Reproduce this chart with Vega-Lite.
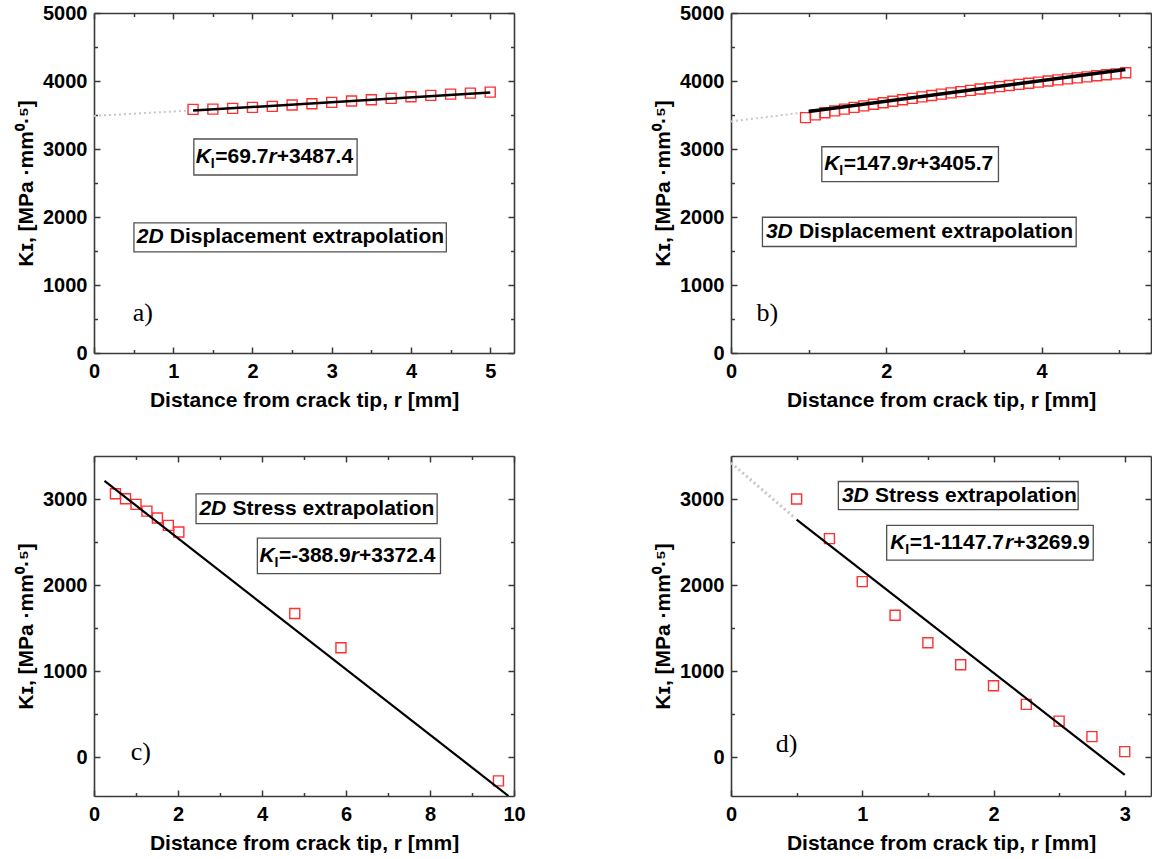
{
  "$schema": "https://vega.github.io/schema/vega-lite/v6.json",
  "background": "white",
  "padding": {"left": 15, "top": 3, "right": 0, "bottom": 0},
  "columns": 2,
  "spacing": {"row": 103, "column": 217},
  "bounds": "flush",
  "config": {
    "view": {"stroke": null},
    "axis": {
      "grid": false,
      "labelFont": "Liberation Sans", "labelFontSize": 20, "labelFontWeight": "bold", "labelColor": "black",
      "titleFont": "Liberation Sans", "titleFontSize": 21, "titleFontWeight": "bold", "titleColor": "black",
      "domainColor": "#3a3a3a", "domainWidth": 1.6, "tickColor": "#3a3a3a", "tickWidth": 1.5,
      "labelFlush": false, "labelOverlap": false
    },
    "text": {"font": "Liberation Sans", "fontSize": 21, "fontWeight": "bold", "baseline": "middle", "align": "left", "color": "black"}
  },
  "datasets": {
    "points": [
      {"panel": "a", "r": 1.25, "K": 3583}, {"panel": "a", "r": 1.5, "K": 3587}, {"panel": "a", "r": 1.75, "K": 3597}, {"panel": "a", "r": 2.0, "K": 3612},
      {"panel": "a", "r": 2.25, "K": 3627}, {"panel": "a", "r": 2.5, "K": 3646}, {"panel": "a", "r": 2.75, "K": 3665}, {"panel": "a", "r": 3.0, "K": 3686},
      {"panel": "a", "r": 3.25, "K": 3705}, {"panel": "a", "r": 3.5, "K": 3724}, {"panel": "a", "r": 3.75, "K": 3744}, {"panel": "a", "r": 4.0, "K": 3768},
      {"panel": "a", "r": 4.25, "K": 3788}, {"panel": "a", "r": 4.5, "K": 3807}, {"panel": "a", "r": 4.75, "K": 3822}, {"panel": "a", "r": 5.0, "K": 3837},
      {"panel": "b", "r": 0.96, "K": 3462}, {"panel": "b", "r": 1.085, "K": 3503}, {"panel": "b", "r": 1.21, "K": 3533}, {"panel": "b", "r": 1.335, "K": 3561},
      {"panel": "b", "r": 1.46, "K": 3587}, {"panel": "b", "r": 1.585, "K": 3611}, {"panel": "b", "r": 1.71, "K": 3635}, {"panel": "b", "r": 1.835, "K": 3658},
      {"panel": "b", "r": 1.96, "K": 3680}, {"panel": "b", "r": 2.085, "K": 3702}, {"panel": "b", "r": 2.21, "K": 3724}, {"panel": "b", "r": 2.335, "K": 3745},
      {"panel": "b", "r": 2.46, "K": 3766}, {"panel": "b", "r": 2.585, "K": 3787}, {"panel": "b", "r": 2.71, "K": 3806}, {"panel": "b", "r": 2.835, "K": 3826},
      {"panel": "b", "r": 2.96, "K": 3844}, {"panel": "b", "r": 3.085, "K": 3863}, {"panel": "b", "r": 3.21, "K": 3882}, {"panel": "b", "r": 3.335, "K": 3899},
      {"panel": "b", "r": 3.46, "K": 3917}, {"panel": "b", "r": 3.585, "K": 3934}, {"panel": "b", "r": 3.71, "K": 3951}, {"panel": "b", "r": 3.835, "K": 3967},
      {"panel": "b", "r": 3.96, "K": 3984}, {"panel": "b", "r": 4.085, "K": 4000}, {"panel": "b", "r": 4.21, "K": 4016}, {"panel": "b", "r": 4.335, "K": 4031},
      {"panel": "b", "r": 4.46, "K": 4047}, {"panel": "b", "r": 4.585, "K": 4062}, {"panel": "b", "r": 4.71, "K": 4077}, {"panel": "b", "r": 4.835, "K": 4092},
      {"panel": "b", "r": 4.96, "K": 4106}, {"panel": "b", "r": 5.085, "K": 4121},
      {"panel": "c", "r": 0.51, "K": 3061}, {"panel": "c", "r": 0.75, "K": 3003}, {"panel": "c", "r": 1.0, "K": 2938}, {"panel": "c", "r": 1.26, "K": 2860},
      {"panel": "c", "r": 1.51, "K": 2779}, {"panel": "c", "r": 1.77, "K": 2694}, {"panel": "c", "r": 2.02, "K": 2617}, {"panel": "c", "r": 4.78, "K": 1670},
      {"panel": "c", "r": 5.88, "K": 1272}, {"panel": "c", "r": 9.63, "K": -274},
      {"panel": "d", "r": 0.5, "K": 3000}, {"panel": "d", "r": 0.75, "K": 2540}, {"panel": "d", "r": 1.0, "K": 2040}, {"panel": "d", "r": 1.25, "K": 1650},
      {"panel": "d", "r": 1.5, "K": 1330}, {"panel": "d", "r": 1.75, "K": 1075}, {"panel": "d", "r": 2.0, "K": 830}, {"panel": "d", "r": 2.25, "K": 615},
      {"panel": "d", "r": 2.5, "K": 420}, {"panel": "d", "r": 2.75, "K": 240}, {"panel": "d", "r": 3.0, "K": 65}
    ],
    "fits": [
      {"panel": "a", "segment": "extrapolated", "r": 0, "K": 3487}, {"panel": "a", "segment": "extrapolated", "r": 1.2, "K": 3565},
      {"panel": "a", "segment": "fit", "r": 1.25, "K": 3565}, {"panel": "a", "segment": "fit", "r": 5.0, "K": 3830},
      {"panel": "b", "segment": "extrapolated", "r": 0, "K": 3405}, {"panel": "b", "segment": "extrapolated", "r": 0.95, "K": 3540},
      {"panel": "b", "segment": "fit", "r": 1.0, "K": 3552}, {"panel": "b", "segment": "fit", "r": 5.08, "K": 4168},
      {"panel": "c", "segment": "fit", "r": 0.25, "K": 3210}, {"panel": "c", "segment": "fit", "r": 9.87, "K": -450},
      {"panel": "d", "segment": "extrapolated", "r": 0, "K": 3420}, {"panel": "d", "segment": "extrapolated", "r": 0.48, "K": 2790},
      {"panel": "d", "segment": "fit", "r": 0.5, "K": 2760}, {"panel": "d", "segment": "fit", "r": 3.0, "K": -205}
    ],
    "boxes": [
      {"panel": "a", "x1": 0.504, "x2": 4.446, "y1": 1487, "y2": 1913}, {"panel": "a", "x1": 1.26, "x2": 3.32, "y1": 2618, "y2": 3147},
      {"panel": "b", "x1": 0.405, "x2": 4.446, "y1": 1566, "y2": 1996}, {"panel": "b", "x1": 1.17, "x2": 3.445, "y1": 2520, "y2": 3033},
      {"panel": "c", "x1": 2.43, "x2": 8.17, "y1": 2714, "y2": 3061}, {"panel": "c", "x1": 3.89, "x2": 8.25, "y1": 2134, "y2": 2547},
      {"panel": "d", "x1": 0.818, "x2": 2.645, "y1": 2876, "y2": 3204}, {"panel": "d", "x1": 1.186, "x2": 2.76, "y1": 2291, "y2": 2695}
    ],
    "notes": [
      {"panel": "a", "part": "prefix", "text": "2D", "x": 0.54, "y": 1700}, {"panel": "a", "part": "label", "text": "Displacement extrapolation", "x": 0.54, "y": 1700},
      {"panel": "a", "part": "K", "text": "K", "x": 1.285, "y": 2883}, {"panel": "a", "part": "sub", "text": "I", "x": 1.285, "y": 2883},
      {"panel": "a", "part": "coef", "text": "=69.7", "x": 1.285, "y": 2883}, {"panel": "a", "part": "r", "text": "r", "x": 1.285, "y": 2883},
      {"panel": "a", "part": "icpt", "text": "+3487.4", "x": 1.285, "y": 2883}, {"panel": "a", "part": "tag", "text": "a)", "x": 0.49, "y": 464},
      {"panel": "b", "part": "prefix", "text": "3D", "x": 0.45, "y": 1781}, {"panel": "b", "part": "label", "text": "Displacement extrapolation", "x": 0.45, "y": 1781},
      {"panel": "b", "part": "K", "text": "K", "x": 1.2, "y": 2779}, {"panel": "b", "part": "sub", "text": "I", "x": 1.2, "y": 2779},
      {"panel": "b", "part": "coef", "text": "=147.9", "x": 1.2, "y": 2779}, {"panel": "b", "part": "r", "text": "r", "x": 1.2, "y": 2779},
      {"panel": "b", "part": "icpt", "text": "+3405.7", "x": 1.2, "y": 2779}, {"panel": "b", "part": "tag", "text": "b)", "x": 0.33, "y": 465},
      {"panel": "c", "part": "prefix", "text": "2D", "x": 2.51, "y": 2888}, {"panel": "c", "part": "label", "text": "Stress extrapolation", "x": 2.51, "y": 2888},
      {"panel": "c", "part": "K", "text": "K", "x": 3.94, "y": 2342}, {"panel": "c", "part": "sub", "text": "I", "x": 3.94, "y": 2342},
      {"panel": "c", "part": "coef", "text": "=-388.9", "x": 3.94, "y": 2342}, {"panel": "c", "part": "r", "text": "r", "x": 3.94, "y": 2342},
      {"panel": "c", "part": "icpt", "text": "+3372.4", "x": 3.94, "y": 2342}, {"panel": "c", "part": "tag", "text": "c)", "x": 0.874, "y": -31},
      {"panel": "d", "part": "prefix", "text": "3D", "x": 0.845, "y": 3038}, {"panel": "d", "part": "label", "text": "Stress extrapolation", "x": 0.845, "y": 3038},
      {"panel": "d", "part": "K", "text": "K", "x": 1.214, "y": 2491}, {"panel": "d", "part": "sub", "text": "I", "x": 1.214, "y": 2491},
      {"panel": "d", "part": "coef", "text": "=1-1147.7", "x": 1.214, "y": 2491}, {"panel": "d", "part": "r", "text": "r", "x": 1.214, "y": 2491},
      {"panel": "d", "part": "icpt", "text": "+3269.9", "x": 1.214, "y": 2491}, {"panel": "d", "part": "tag", "text": "d)", "x": 0.341, "y": 65}
    ]
  },
  "concat": [
    {
      "width": 420, "height": 340,
      "resolve": {"axis": {"x": "independent", "y": "independent"}},
      "layer": [
        {"data": {"name": "boxes"}, "transform": [{"filter": "datum.panel=='a'"}],
         "mark": {"type": "rect", "fill": "white", "stroke": "#505050", "strokeWidth": 1.3},
         "encoding": {
           "x": {"field": "x1", "type": "quantitative", "scale": {"domain": [0, 5.3], "nice": false, "zero": false}, "axis": {"orient": "top", "values": [0.5, 1.5, 2.5, 3.5, 4.5], "labels": false, "title": null, "domain": false, "tickSize": -3.5}},
           "x2": {"field": "x2"},
           "y": {"field": "y1", "type": "quantitative", "scale": {"domain": [0, 5000], "nice": false, "zero": false}, "axis": {"orient": "right", "values": [500, 1500, 2500, 3500, 4500], "labels": false, "title": null, "domain": false, "tickSize": -3.5}},
           "y2": {"field": "y2"}}},
        {"data": {"name": "fits"}, "transform": [{"filter": "datum.panel=='a' && datum.segment=='extrapolated'"}],
         "mark": {"type": "line", "color": "#cdc5c5", "strokeWidth": 2, "strokeDash": [2, 3]},
         "encoding": {
           "x": {"field": "r", "type": "quantitative", "scale": {"domain": [0, 5.3], "nice": false, "zero": false}, "axis": {"orient": "bottom", "values": [0.5, 1.5, 2.5, 3.5, 4.5], "labels": false, "title": null, "domain": false, "tickSize": -3.5}},
           "y": {"field": "K", "type": "quantitative", "scale": {"domain": [0, 5000], "nice": false, "zero": false}, "axis": {"orient": "left", "values": [500, 1500, 2500, 3500, 4500], "labels": false, "title": null, "domain": false, "tickSize": -3.5}}}},
        {"data": {"name": "points"}, "transform": [{"filter": "datum.panel=='a'"}],
         "mark": {"type": "point", "shape": "square", "filled": false, "size": 100, "color": "#ff3030", "strokeWidth": 1.4, "opacity": 1},
         "encoding": {
           "x": {"field": "r", "type": "quantitative", "scale": {"domain": [0, 5.3], "nice": false, "zero": false}, "axis": {"orient": "bottom", "values": [0, 1, 2, 3, 4, 5], "title": "Distance from crack tip, r [mm]", "tickSize": -6, "labelPadding": 14, "titlePadding": 8}},
           "y": {"field": "K", "type": "quantitative", "scale": {"domain": [0, 5000], "nice": false, "zero": false}, "axis": {"orient": "left", "values": [0, 1000, 2000, 3000, 4000, 5000], "format": "d", "title": "Kɪ, [MPa ·mm⁰·⁵]", "tickSize": -6, "labelPadding": 13, "titlePadding": 6}}}},
        {"data": {"name": "fits"}, "transform": [{"filter": "datum.panel=='a' && datum.segment=='fit'"}],
         "mark": {"type": "line", "color": "black", "strokeWidth": 2.5, "clip": true},
         "encoding": {
           "x": {"field": "r", "type": "quantitative", "scale": {"domain": [0, 5.3], "nice": false, "zero": false}, "axis": {"orient": "top", "values": [0, 1, 2, 3, 4, 5], "labels": false, "title": null, "tickSize": -6}},
           "y": {"field": "K", "type": "quantitative", "scale": {"domain": [0, 5000], "nice": false, "zero": false}, "axis": {"orient": "right", "values": [0, 1000, 2000, 3000, 4000, 5000], "labels": false, "title": null, "tickSize": -6}}}},
        {"data": {"name": "notes"}, "transform": [{"filter": "datum.panel=='a' && (datum.part=='prefix' || datum.part=='K')"}],
         "mark": {"type": "text", "fontStyle": "italic"},
         "encoding": {"x": {"field": "x", "type": "quantitative", "scale": {"domain": [0, 5.3], "nice": false, "zero": false}, "axis": null}, "y": {"field": "y", "type": "quantitative", "scale": {"domain": [0, 5000], "nice": false, "zero": false}, "axis": null}, "text": {"field": "text"}}},
        {"data": {"name": "notes"}, "transform": [{"filter": "datum.panel=='a' && datum.part=='label'"}],
         "mark": {"type": "text", "dx": 33},
         "encoding": {"x": {"field": "x", "type": "quantitative", "scale": {"domain": [0, 5.3], "nice": false, "zero": false}, "axis": null}, "y": {"field": "y", "type": "quantitative", "scale": {"domain": [0, 5000], "nice": false, "zero": false}, "axis": null}, "text": {"field": "text"}}},
        {"data": {"name": "notes"}, "transform": [{"filter": "datum.panel=='a' && datum.part=='sub'"}],
         "mark": {"type": "text", "dx": 15, "dy": 7, "fontSize": 14},
         "encoding": {"x": {"field": "x", "type": "quantitative", "scale": {"domain": [0, 5.3], "nice": false, "zero": false}, "axis": null}, "y": {"field": "y", "type": "quantitative", "scale": {"domain": [0, 5000], "nice": false, "zero": false}, "axis": null}, "text": {"field": "text"}}},
        {"data": {"name": "notes"}, "transform": [{"filter": "datum.panel=='a' && datum.part=='coef'"}],
         "mark": {"type": "text", "dx": 19.5},
         "encoding": {"x": {"field": "x", "type": "quantitative", "scale": {"domain": [0, 5.3], "nice": false, "zero": false}, "axis": null}, "y": {"field": "y", "type": "quantitative", "scale": {"domain": [0, 5000], "nice": false, "zero": false}, "axis": null}, "text": {"field": "text"}}},
        {"data": {"name": "notes"}, "transform": [{"filter": "datum.panel=='a' && datum.part=='r'"}],
         "mark": {"type": "text", "dx": 72.6, "fontStyle": "italic"},
         "encoding": {"x": {"field": "x", "type": "quantitative", "scale": {"domain": [0, 5.3], "nice": false, "zero": false}, "axis": null}, "y": {"field": "y", "type": "quantitative", "scale": {"domain": [0, 5000], "nice": false, "zero": false}, "axis": null}, "text": {"field": "text"}}},
        {"data": {"name": "notes"}, "transform": [{"filter": "datum.panel=='a' && datum.part=='icpt'"}],
         "mark": {"type": "text", "dx": 80.8},
         "encoding": {"x": {"field": "x", "type": "quantitative", "scale": {"domain": [0, 5.3], "nice": false, "zero": false}, "axis": null}, "y": {"field": "y", "type": "quantitative", "scale": {"domain": [0, 5000], "nice": false, "zero": false}, "axis": null}, "text": {"field": "text"}}},
        {"data": {"name": "notes"}, "transform": [{"filter": "datum.panel=='a' && datum.part=='tag'"}],
         "mark": {"type": "text", "font": "Liberation Serif", "fontWeight": "normal", "fontSize": 26, "baseline": "alphabetic"},
         "encoding": {"x": {"field": "x", "type": "quantitative", "scale": {"domain": [0, 5.3], "nice": false, "zero": false}, "axis": null}, "y": {"field": "y", "type": "quantitative", "scale": {"domain": [0, 5000], "nice": false, "zero": false}, "axis": null}, "text": {"field": "text"}}}
      ]
    },
    {
      "width": 420, "height": 340,
      "resolve": {"axis": {"x": "independent", "y": "independent"}},
      "layer": [
        {"data": {"name": "boxes"}, "transform": [{"filter": "datum.panel=='b'"}],
         "mark": {"type": "rect", "fill": "white", "stroke": "#505050", "strokeWidth": 1.3},
         "encoding": {
           "x": {"field": "x1", "type": "quantitative", "scale": {"domain": [0, 5.41], "nice": false, "zero": false}, "axis": {"orient": "top", "values": [1, 3, 5], "labels": false, "title": null, "domain": false, "tickSize": -3.5}},
           "x2": {"field": "x2"},
           "y": {"field": "y1", "type": "quantitative", "scale": {"domain": [0, 5000], "nice": false, "zero": false}, "axis": {"orient": "right", "values": [500, 1500, 2500, 3500, 4500], "labels": false, "title": null, "domain": false, "tickSize": -3.5}},
           "y2": {"field": "y2"}}},
        {"data": {"name": "fits"}, "transform": [{"filter": "datum.panel=='b' && datum.segment=='extrapolated'"}],
         "mark": {"type": "line", "color": "#cdc5c5", "strokeWidth": 2, "strokeDash": [2, 3]},
         "encoding": {
           "x": {"field": "r", "type": "quantitative", "scale": {"domain": [0, 5.41], "nice": false, "zero": false}, "axis": {"orient": "bottom", "values": [1, 3, 5], "labels": false, "title": null, "domain": false, "tickSize": -3.5}},
           "y": {"field": "K", "type": "quantitative", "scale": {"domain": [0, 5000], "nice": false, "zero": false}, "axis": {"orient": "left", "values": [500, 1500, 2500, 3500, 4500], "labels": false, "title": null, "domain": false, "tickSize": -3.5}}}},
        {"data": {"name": "points"}, "transform": [{"filter": "datum.panel=='b'"}],
         "mark": {"type": "point", "shape": "square", "filled": false, "size": 100, "color": "#ff3030", "strokeWidth": 1.3, "opacity": 1},
         "encoding": {
           "x": {"field": "r", "type": "quantitative", "scale": {"domain": [0, 5.41], "nice": false, "zero": false}, "axis": {"orient": "bottom", "values": [0, 2, 4], "title": "Distance from crack tip, r [mm]", "tickSize": -6, "labelPadding": 14, "titlePadding": 8}},
           "y": {"field": "K", "type": "quantitative", "scale": {"domain": [0, 5000], "nice": false, "zero": false}, "axis": {"orient": "left", "values": [0, 1000, 2000, 3000, 4000, 5000], "format": "d", "title": "Kɪ, [MPa ·mm⁰·⁵]", "tickSize": -6, "labelPadding": 13, "titlePadding": 6}}}},
        {"data": {"name": "fits"}, "transform": [{"filter": "datum.panel=='b' && datum.segment=='fit'"}],
         "mark": {"type": "line", "color": "black", "strokeWidth": 3.5, "clip": true},
         "encoding": {
           "x": {"field": "r", "type": "quantitative", "scale": {"domain": [0, 5.41], "nice": false, "zero": false}, "axis": {"orient": "top", "values": [0, 2, 4], "labels": false, "title": null, "tickSize": -6}},
           "y": {"field": "K", "type": "quantitative", "scale": {"domain": [0, 5000], "nice": false, "zero": false}, "axis": {"orient": "right", "values": [0, 1000, 2000, 3000, 4000, 5000], "labels": false, "title": null, "tickSize": -6}}}},
        {"data": {"name": "notes"}, "transform": [{"filter": "datum.panel=='b' && (datum.part=='prefix' || datum.part=='K')"}],
         "mark": {"type": "text", "fontStyle": "italic"},
         "encoding": {"x": {"field": "x", "type": "quantitative", "scale": {"domain": [0, 5.41], "nice": false, "zero": false}, "axis": null}, "y": {"field": "y", "type": "quantitative", "scale": {"domain": [0, 5000], "nice": false, "zero": false}, "axis": null}, "text": {"field": "text"}}},
        {"data": {"name": "notes"}, "transform": [{"filter": "datum.panel=='b' && datum.part=='label'"}],
         "mark": {"type": "text", "dx": 33},
         "encoding": {"x": {"field": "x", "type": "quantitative", "scale": {"domain": [0, 5.41], "nice": false, "zero": false}, "axis": null}, "y": {"field": "y", "type": "quantitative", "scale": {"domain": [0, 5000], "nice": false, "zero": false}, "axis": null}, "text": {"field": "text"}}},
        {"data": {"name": "notes"}, "transform": [{"filter": "datum.panel=='b' && datum.part=='sub'"}],
         "mark": {"type": "text", "dx": 15, "dy": 7, "fontSize": 14},
         "encoding": {"x": {"field": "x", "type": "quantitative", "scale": {"domain": [0, 5.41], "nice": false, "zero": false}, "axis": null}, "y": {"field": "y", "type": "quantitative", "scale": {"domain": [0, 5000], "nice": false, "zero": false}, "axis": null}, "text": {"field": "text"}}},
        {"data": {"name": "notes"}, "transform": [{"filter": "datum.panel=='b' && datum.part=='coef'"}],
         "mark": {"type": "text", "dx": 19.5},
         "encoding": {"x": {"field": "x", "type": "quantitative", "scale": {"domain": [0, 5.41], "nice": false, "zero": false}, "axis": null}, "y": {"field": "y", "type": "quantitative", "scale": {"domain": [0, 5000], "nice": false, "zero": false}, "axis": null}, "text": {"field": "text"}}},
        {"data": {"name": "notes"}, "transform": [{"filter": "datum.panel=='b' && datum.part=='r'"}],
         "mark": {"type": "text", "dx": 84.3, "fontStyle": "italic"},
         "encoding": {"x": {"field": "x", "type": "quantitative", "scale": {"domain": [0, 5.41], "nice": false, "zero": false}, "axis": null}, "y": {"field": "y", "type": "quantitative", "scale": {"domain": [0, 5000], "nice": false, "zero": false}, "axis": null}, "text": {"field": "text"}}},
        {"data": {"name": "notes"}, "transform": [{"filter": "datum.panel=='b' && datum.part=='icpt'"}],
         "mark": {"type": "text", "dx": 92.5},
         "encoding": {"x": {"field": "x", "type": "quantitative", "scale": {"domain": [0, 5.41], "nice": false, "zero": false}, "axis": null}, "y": {"field": "y", "type": "quantitative", "scale": {"domain": [0, 5000], "nice": false, "zero": false}, "axis": null}, "text": {"field": "text"}}},
        {"data": {"name": "notes"}, "transform": [{"filter": "datum.panel=='b' && datum.part=='tag'"}],
         "mark": {"type": "text", "font": "Liberation Serif", "fontWeight": "normal", "fontSize": 26, "baseline": "alphabetic"},
         "encoding": {"x": {"field": "x", "type": "quantitative", "scale": {"domain": [0, 5.41], "nice": false, "zero": false}, "axis": null}, "y": {"field": "y", "type": "quantitative", "scale": {"domain": [0, 5000], "nice": false, "zero": false}, "axis": null}, "text": {"field": "text"}}}
      ]
    },
    {
      "width": 420, "height": 340,
      "resolve": {"axis": {"x": "independent", "y": "independent"}},
      "layer": [
        {"data": {"name": "boxes"}, "transform": [{"filter": "datum.panel=='c'"}],
         "mark": {"type": "rect", "fill": "white", "stroke": "#505050", "strokeWidth": 1.3},
         "encoding": {
           "x": {"field": "x1", "type": "quantitative", "scale": {"domain": [0, 10], "nice": false, "zero": false}, "axis": {"orient": "top", "values": [1, 3, 5, 7, 9], "labels": false, "title": null, "domain": false, "tickSize": -3.5}},
           "x2": {"field": "x2"},
           "y": {"field": "y1", "type": "quantitative", "scale": {"domain": [-450, 3500], "nice": false, "zero": false}, "axis": {"orient": "right", "values": [500, 1500, 2500], "labels": false, "title": null, "domain": false, "tickSize": -3.5}},
           "y2": {"field": "y2"}}},
        {"data": {"name": "fits"}, "transform": [{"filter": "datum.panel=='c' && datum.segment=='extrapolated'"}],
         "mark": {"type": "line", "color": "#cdc5c5", "strokeWidth": 2, "strokeDash": [2, 3]},
         "encoding": {
           "x": {"field": "r", "type": "quantitative", "scale": {"domain": [0, 10], "nice": false, "zero": false}, "axis": {"orient": "bottom", "values": [1, 3, 5, 7, 9], "labels": false, "title": null, "domain": false, "tickSize": -3.5}},
           "y": {"field": "K", "type": "quantitative", "scale": {"domain": [-450, 3500], "nice": false, "zero": false}, "axis": {"orient": "left", "values": [500, 1500, 2500], "labels": false, "title": null, "domain": false, "tickSize": -3.5}}}},
        {"data": {"name": "points"}, "transform": [{"filter": "datum.panel=='c'"}],
         "mark": {"type": "point", "shape": "square", "filled": false, "size": 100, "color": "#ff3030", "strokeWidth": 1.4, "opacity": 1},
         "encoding": {
           "x": {"field": "r", "type": "quantitative", "scale": {"domain": [0, 10], "nice": false, "zero": false}, "axis": {"orient": "bottom", "values": [0, 2, 4, 6, 8, 10], "title": "Distance from crack tip, r [mm]", "tickSize": -6, "labelPadding": 14, "titlePadding": 8}},
           "y": {"field": "K", "type": "quantitative", "scale": {"domain": [-450, 3500], "nice": false, "zero": false}, "axis": {"orient": "left", "values": [0, 1000, 2000, 3000], "format": "d", "title": "Kɪ, [MPa ·mm⁰·⁵]", "tickSize": -6, "labelPadding": 13, "titlePadding": 6}}}},
        {"data": {"name": "fits"}, "transform": [{"filter": "datum.panel=='c' && datum.segment=='fit'"}],
         "mark": {"type": "line", "color": "black", "strokeWidth": 2.2, "clip": true},
         "encoding": {
           "x": {"field": "r", "type": "quantitative", "scale": {"domain": [0, 10], "nice": false, "zero": false}, "axis": {"orient": "top", "values": [0, 2, 4, 6, 8, 10], "labels": false, "title": null, "tickSize": -6}},
           "y": {"field": "K", "type": "quantitative", "scale": {"domain": [-450, 3500], "nice": false, "zero": false}, "axis": {"orient": "right", "values": [0, 1000, 2000, 3000], "labels": false, "title": null, "tickSize": -6}}}},
        {"data": {"name": "notes"}, "transform": [{"filter": "datum.panel=='c' && (datum.part=='prefix' || datum.part=='K')"}],
         "mark": {"type": "text", "fontStyle": "italic"},
         "encoding": {"x": {"field": "x", "type": "quantitative", "scale": {"domain": [0, 10], "nice": false, "zero": false}, "axis": null}, "y": {"field": "y", "type": "quantitative", "scale": {"domain": [-450, 3500], "nice": false, "zero": false}, "axis": null}, "text": {"field": "text"}}},
        {"data": {"name": "notes"}, "transform": [{"filter": "datum.panel=='c' && datum.part=='label'"}],
         "mark": {"type": "text", "dx": 33},
         "encoding": {"x": {"field": "x", "type": "quantitative", "scale": {"domain": [0, 10], "nice": false, "zero": false}, "axis": null}, "y": {"field": "y", "type": "quantitative", "scale": {"domain": [-450, 3500], "nice": false, "zero": false}, "axis": null}, "text": {"field": "text"}}},
        {"data": {"name": "notes"}, "transform": [{"filter": "datum.panel=='c' && datum.part=='sub'"}],
         "mark": {"type": "text", "dx": 15, "dy": 7, "fontSize": 14},
         "encoding": {"x": {"field": "x", "type": "quantitative", "scale": {"domain": [0, 10], "nice": false, "zero": false}, "axis": null}, "y": {"field": "y", "type": "quantitative", "scale": {"domain": [-450, 3500], "nice": false, "zero": false}, "axis": null}, "text": {"field": "text"}}},
        {"data": {"name": "notes"}, "transform": [{"filter": "datum.panel=='c' && datum.part=='coef'"}],
         "mark": {"type": "text", "dx": 19.5},
         "encoding": {"x": {"field": "x", "type": "quantitative", "scale": {"domain": [0, 10], "nice": false, "zero": false}, "axis": null}, "y": {"field": "y", "type": "quantitative", "scale": {"domain": [-450, 3500], "nice": false, "zero": false}, "axis": null}, "text": {"field": "text"}}},
        {"data": {"name": "notes"}, "transform": [{"filter": "datum.panel=='c' && datum.part=='r'"}],
         "mark": {"type": "text", "dx": 91.3, "fontStyle": "italic"},
         "encoding": {"x": {"field": "x", "type": "quantitative", "scale": {"domain": [0, 10], "nice": false, "zero": false}, "axis": null}, "y": {"field": "y", "type": "quantitative", "scale": {"domain": [-450, 3500], "nice": false, "zero": false}, "axis": null}, "text": {"field": "text"}}},
        {"data": {"name": "notes"}, "transform": [{"filter": "datum.panel=='c' && datum.part=='icpt'"}],
         "mark": {"type": "text", "dx": 99.5},
         "encoding": {"x": {"field": "x", "type": "quantitative", "scale": {"domain": [0, 10], "nice": false, "zero": false}, "axis": null}, "y": {"field": "y", "type": "quantitative", "scale": {"domain": [-450, 3500], "nice": false, "zero": false}, "axis": null}, "text": {"field": "text"}}},
        {"data": {"name": "notes"}, "transform": [{"filter": "datum.panel=='c' && datum.part=='tag'"}],
         "mark": {"type": "text", "font": "Liberation Serif", "fontWeight": "normal", "fontSize": 26, "baseline": "alphabetic"},
         "encoding": {"x": {"field": "x", "type": "quantitative", "scale": {"domain": [0, 10], "nice": false, "zero": false}, "axis": null}, "y": {"field": "y", "type": "quantitative", "scale": {"domain": [-450, 3500], "nice": false, "zero": false}, "axis": null}, "text": {"field": "text"}}}
      ]
    },
    {
      "width": 420, "height": 340,
      "resolve": {"axis": {"x": "independent", "y": "independent"}},
      "layer": [
        {"data": {"name": "boxes"}, "transform": [{"filter": "datum.panel=='d'"}],
         "mark": {"type": "rect", "fill": "white", "stroke": "#505050", "strokeWidth": 1.3},
         "encoding": {
           "x": {"field": "x1", "type": "quantitative", "scale": {"domain": [0, 3.2], "nice": false, "zero": false}, "axis": {"orient": "top", "values": [0.5, 1.5, 2.5], "labels": false, "title": null, "domain": false, "tickSize": -3.5}},
           "x2": {"field": "x2"},
           "y": {"field": "y1", "type": "quantitative", "scale": {"domain": [-450, 3500], "nice": false, "zero": false}, "axis": {"orient": "right", "values": [500, 1500, 2500], "labels": false, "title": null, "domain": false, "tickSize": -3.5}},
           "y2": {"field": "y2"}}},
        {"data": {"name": "fits"}, "transform": [{"filter": "datum.panel=='d' && datum.segment=='extrapolated'"}],
         "mark": {"type": "line", "color": "#cdc5c5", "strokeWidth": 3, "strokeDash": [2, 3]},
         "encoding": {
           "x": {"field": "r", "type": "quantitative", "scale": {"domain": [0, 3.2], "nice": false, "zero": false}, "axis": {"orient": "bottom", "values": [0.5, 1.5, 2.5], "labels": false, "title": null, "domain": false, "tickSize": -3.5}},
           "y": {"field": "K", "type": "quantitative", "scale": {"domain": [-450, 3500], "nice": false, "zero": false}, "axis": {"orient": "left", "values": [500, 1500, 2500], "labels": false, "title": null, "domain": false, "tickSize": -3.5}}}},
        {"data": {"name": "points"}, "transform": [{"filter": "datum.panel=='d'"}],
         "mark": {"type": "point", "shape": "square", "filled": false, "size": 100, "color": "#ff3030", "strokeWidth": 1.4, "opacity": 1},
         "encoding": {
           "x": {"field": "r", "type": "quantitative", "scale": {"domain": [0, 3.2], "nice": false, "zero": false}, "axis": {"orient": "bottom", "values": [0, 1, 2, 3], "title": "Distance from crack tip, r [mm]", "tickSize": -6, "labelPadding": 14, "titlePadding": 8}},
           "y": {"field": "K", "type": "quantitative", "scale": {"domain": [-450, 3500], "nice": false, "zero": false}, "axis": {"orient": "left", "values": [0, 1000, 2000, 3000], "format": "d", "title": "Kɪ, [MPa ·mm⁰·⁵]", "tickSize": -6, "labelPadding": 13, "titlePadding": 6}}}},
        {"data": {"name": "fits"}, "transform": [{"filter": "datum.panel=='d' && datum.segment=='fit'"}],
         "mark": {"type": "line", "color": "black", "strokeWidth": 2.2, "clip": true},
         "encoding": {
           "x": {"field": "r", "type": "quantitative", "scale": {"domain": [0, 3.2], "nice": false, "zero": false}, "axis": {"orient": "top", "values": [0, 1, 2, 3], "labels": false, "title": null, "tickSize": -6}},
           "y": {"field": "K", "type": "quantitative", "scale": {"domain": [-450, 3500], "nice": false, "zero": false}, "axis": {"orient": "right", "values": [0, 1000, 2000, 3000], "labels": false, "title": null, "tickSize": -6}}}},
        {"data": {"name": "notes"}, "transform": [{"filter": "datum.panel=='d' && (datum.part=='prefix' || datum.part=='K')"}],
         "mark": {"type": "text", "fontStyle": "italic"},
         "encoding": {"x": {"field": "x", "type": "quantitative", "scale": {"domain": [0, 3.2], "nice": false, "zero": false}, "axis": null}, "y": {"field": "y", "type": "quantitative", "scale": {"domain": [-450, 3500], "nice": false, "zero": false}, "axis": null}, "text": {"field": "text"}}},
        {"data": {"name": "notes"}, "transform": [{"filter": "datum.panel=='d' && datum.part=='label'"}],
         "mark": {"type": "text", "dx": 33},
         "encoding": {"x": {"field": "x", "type": "quantitative", "scale": {"domain": [0, 3.2], "nice": false, "zero": false}, "axis": null}, "y": {"field": "y", "type": "quantitative", "scale": {"domain": [-450, 3500], "nice": false, "zero": false}, "axis": null}, "text": {"field": "text"}}},
        {"data": {"name": "notes"}, "transform": [{"filter": "datum.panel=='d' && datum.part=='sub'"}],
         "mark": {"type": "text", "dx": 15, "dy": 7, "fontSize": 14},
         "encoding": {"x": {"field": "x", "type": "quantitative", "scale": {"domain": [0, 3.2], "nice": false, "zero": false}, "axis": null}, "y": {"field": "y", "type": "quantitative", "scale": {"domain": [-450, 3500], "nice": false, "zero": false}, "axis": null}, "text": {"field": "text"}}},
        {"data": {"name": "notes"}, "transform": [{"filter": "datum.panel=='d' && datum.part=='coef'"}],
         "mark": {"type": "text", "dx": 19.5},
         "encoding": {"x": {"field": "x", "type": "quantitative", "scale": {"domain": [0, 3.2], "nice": false, "zero": false}, "axis": null}, "y": {"field": "y", "type": "quantitative", "scale": {"domain": [-450, 3500], "nice": false, "zero": false}, "axis": null}, "text": {"field": "text"}}},
        {"data": {"name": "notes"}, "transform": [{"filter": "datum.panel=='d' && datum.part=='r'"}],
         "mark": {"type": "text", "dx": 114.7, "fontStyle": "italic"},
         "encoding": {"x": {"field": "x", "type": "quantitative", "scale": {"domain": [0, 3.2], "nice": false, "zero": false}, "axis": null}, "y": {"field": "y", "type": "quantitative", "scale": {"domain": [-450, 3500], "nice": false, "zero": false}, "axis": null}, "text": {"field": "text"}}},
        {"data": {"name": "notes"}, "transform": [{"filter": "datum.panel=='d' && datum.part=='icpt'"}],
         "mark": {"type": "text", "dx": 122.9},
         "encoding": {"x": {"field": "x", "type": "quantitative", "scale": {"domain": [0, 3.2], "nice": false, "zero": false}, "axis": null}, "y": {"field": "y", "type": "quantitative", "scale": {"domain": [-450, 3500], "nice": false, "zero": false}, "axis": null}, "text": {"field": "text"}}},
        {"data": {"name": "notes"}, "transform": [{"filter": "datum.panel=='d' && datum.part=='tag'"}],
         "mark": {"type": "text", "font": "Liberation Serif", "fontWeight": "normal", "fontSize": 26, "baseline": "alphabetic"},
         "encoding": {"x": {"field": "x", "type": "quantitative", "scale": {"domain": [0, 3.2], "nice": false, "zero": false}, "axis": null}, "y": {"field": "y", "type": "quantitative", "scale": {"domain": [-450, 3500], "nice": false, "zero": false}, "axis": null}, "text": {"field": "text"}}}
      ]
    }
  ]
}
